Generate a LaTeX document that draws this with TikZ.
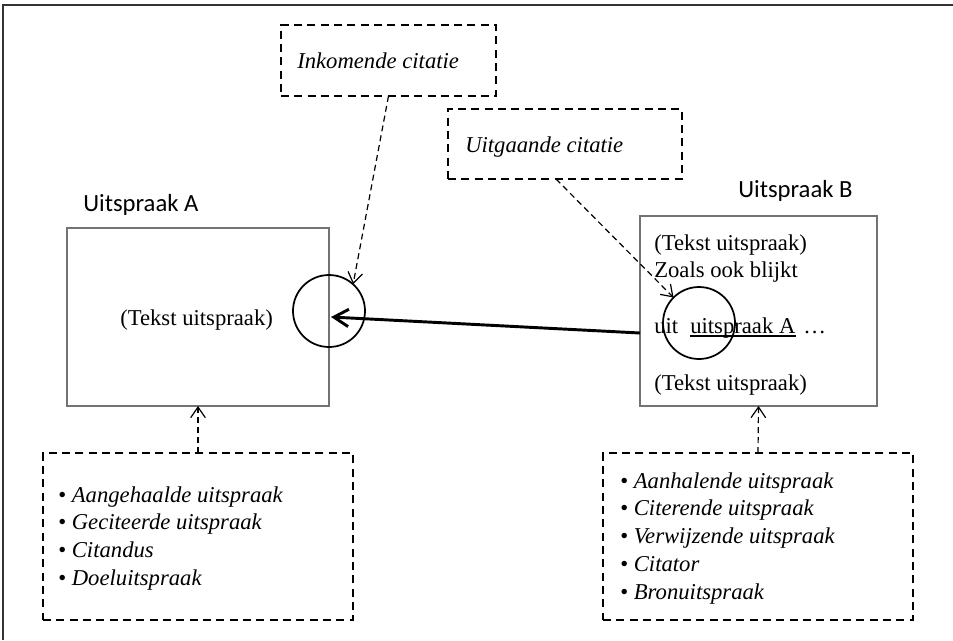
\documentclass[tikz,border=0pt]{standalone}
\usepackage{fontspec}
\setmainfont{Liberation Serif}
\newfontfamily\labelfont{Carlito}
\usetikzlibrary{arrows.meta,calc}
\newcommand{\citearrow}{-{Straight Barb[length=11pt,width=13pt]}}
\newcommand{\refarrow}{-{Straight Barb[length=8pt,width=11pt]}}

\tikzset{
  pageframe/.style={draw=black!80, line width=2pt},
  statement/.style={draw=black!55, line width=0.9pt, inner sep=0pt, outer sep=0pt},
  note/.style={draw, line width=1.5pt, dash pattern=on 6pt off 4pt, inner sep=0pt, outer sep=0pt},
  citecircle/.style={draw, circle, line width=1.3pt, minimum size=54pt, inner sep=0pt, outer sep=0pt},
  plaintext/.style={font=\fontsize{17}{20}\selectfont, inner sep=0pt, anchor=base west},
  termtext/.style={plaintext, font=\fontsize{17}{20}\selectfont\itshape},
  heading/.style={font=\labelfont\fontsize{18.5}{22}\selectfont, inner sep=0pt, anchor=base west},
  pointer/.style={dash pattern=on 4.5pt off 3pt, line width=0.9pt},
}

\begin{document}
\begin{tikzpicture}[x=0.75pt,y=-0.75pt]
  \useasboundingbox (0,0) rectangle (953,640);
  \draw[pageframe] (3,640) -- (3,5) -- (953,5);

  % boxes
  \node[note, minimum width=161.25pt, minimum height=53.25pt] (incBox) at (388.5,60.5) {};
  \node[note, minimum width=175.5pt, minimum height=52.5pt] (outBox) at (565,144) {};
  \node[statement, minimum width=196.5pt, minimum height=133.5pt] (boxA) at (198,317) {};
  \node[statement, minimum width=177.75pt, minimum height=142.5pt] (boxB) at (758.5,311) {};
  \node[note, minimum width=232.5pt, minimum height=125.25pt] (listA) at (198,536.5) {};
  \node[note, minimum width=232.5pt, minimum height=125.25pt] (listB) at (758,536.5) {};

  % texts
  \node[termtext] (incText) at (297,68) {Inkomende citatie};
  \node[termtext] (outText) at (465,152) {Uitgaande citatie};
  \node[heading] (labelA) at (83,211) {Uitspraak A};
  \node[heading] (labelB) at (738,197) {Uitspraak B};
  \node[plaintext] (textA) at (120,325) {(Tekst uitspraak)};
  \node[plaintext] (textB1) at (654,250) {(Tekst uitspraak)};
  \node[plaintext] (textB2) at (654,277) {Zoals ook blijkt};
  \node[plaintext] (textB3) at (654,333) {uit};
  \node[plaintext] (textB4) at (690,333) {uitspraak A};
  \node[plaintext] (textB5) at (803,333) {…};
  \node[plaintext] (textB6) at (654,390) {(Tekst uitspraak)};
  \draw[line width=1.2pt] ($(textB4.base west)+(0,3)$) -- ($(textB4.base east)+(0,3)$);

  \foreach \entry [count=\i] in {Aangehaalde uitspraak, Geciteerde uitspraak, Citandus, Doeluitspraak}
    \node[plaintext] (itemA\i) at (58,{502+27.7*(\i-1)}) {\textbullet\ \textit{\entry}};
  \foreach \entry [count=\i] in {Aanhalende uitspraak, Citerende uitspraak, Verwijzende uitspraak, Citator, Bronuitspraak}
    \node[plaintext] (itemB\i) at (620,{488+27.75*(\i-1)}) {\textbullet\ \textit{\entry}};

  % circles
  \node[citecircle] (circA) at (329,311) {};
  \node[citecircle] (circB) at (699,323) {};

  % connectors
  \coordinate (outStart) at ($(outBox.south)+(-9,0)$);
  \coordinate (citeFrom) at ($(boxB.west)+(0,22)$);
  \coordinate (citeTo) at ($(circA.center)+(2,6)$);
  \draw[pointer, \refarrow] (incBox.south) -- (circA.48);
  \draw[pointer, \refarrow] (outStart) -- (circB.135);
  \draw[line width=2.2pt, \citearrow] (citeFrom) -- (citeTo);
  \draw[pointer, \refarrow] (listA.north) -- (boxA.south);
  \draw[pointer, \refarrow] (listB.north) -- (boxB.south);
\end{tikzpicture}
\end{document}
